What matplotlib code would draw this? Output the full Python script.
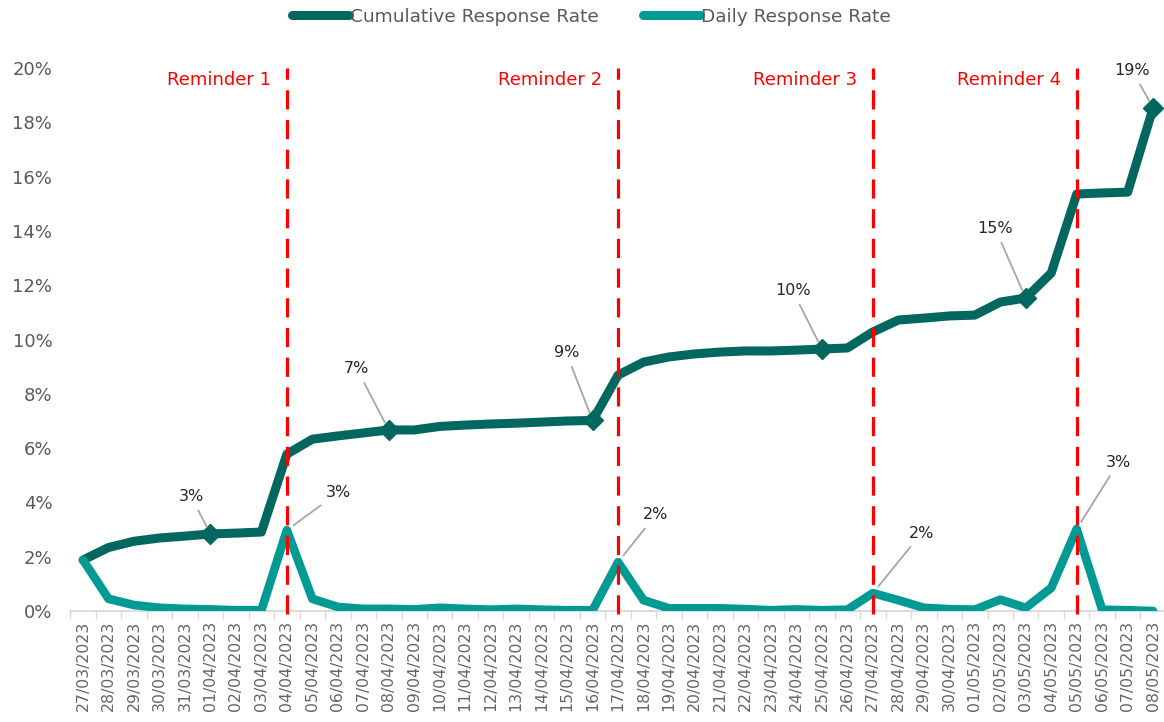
import matplotlib
matplotlib.use("Agg")
import matplotlib.pyplot as plt
import numpy as np

dates = ["27/03/2023", "28/03/2023", "29/03/2023", "30/03/2023", "31/03/2023",
         "01/04/2023", "02/04/2023", "03/04/2023", "04/04/2023", "05/04/2023",
         "06/04/2023", "07/04/2023", "08/04/2023", "09/04/2023", "10/04/2023",
         "11/04/2023", "12/04/2023", "13/04/2023", "14/04/2023", "15/04/2023",
         "16/04/2023", "17/04/2023", "18/04/2023", "19/04/2023", "20/04/2023",
         "21/04/2023", "22/04/2023", "23/04/2023", "24/04/2023", "25/04/2023",
         "26/04/2023", "27/04/2023", "28/04/2023", "29/04/2023", "30/04/2023",
         "01/05/2023", "02/05/2023", "03/05/2023", "04/05/2023", "05/05/2023",
         "06/05/2023", "07/05/2023", "08/05/2023"]

cumulative = [1.88, 2.34, 2.57, 2.69, 2.76, 2.84, 2.87, 2.91, 5.78, 6.33,
              6.45, 6.56, 6.67, 6.67, 6.80, 6.85, 6.89, 6.92, 6.96, 7.00,
              7.02, 8.69, 9.17, 9.36, 9.47, 9.54, 9.58, 9.58, 9.61, 9.65,
              9.69, 10.28, 10.72, 10.79, 10.87, 10.90, 11.38, 11.53, 12.45, 15.36,
              15.40, 15.43, 18.53]

daily = [1.88, 0.45, 0.22, 0.12, 0.08, 0.06, 0.03, 0.03, 2.98, 0.45,
         0.15, 0.08, 0.08, 0.06, 0.12, 0.08, 0.05, 0.08, 0.05, 0.03,
         0.03, 1.80, 0.40, 0.10, 0.10, 0.10, 0.07, 0.03, 0.06, 0.03,
         0.05, 0.66, 0.40, 0.12, 0.07, 0.05, 0.42, 0.12, 0.85, 3.02,
         0.05, 0.03, 0.00]

reminder_dates = ["04/04/2023", "17/04/2023", "27/04/2023", "05/05/2023"]
reminder_labels = ["Reminder 1", "Reminder 2", "Reminder 3", "Reminder 4"]

# cumulative markers with labels
cum_label_dates = ["01/04/2023", "08/04/2023", "16/04/2023", "25/04/2023", "03/05/2023", "08/05/2023"]
cum_label_texts = ["3%", "7%", "9%", "10%", "15%", "19%"]
daily_label_dates = ["04/04/2023", "17/04/2023", "27/04/2023", "05/05/2023"]
daily_label_texts = ["3%", "2%", "2%", "3%"]

C_CUM = "#02675F"
C_DAY = "#009A95"
GRAY_TXT = "#595959"

plt.rcParams['font.family'] = ['DejaVu Sans']

fig = plt.figure(figsize=(11.64, 7.22), dpi=100)
ax = fig.add_axes([0.0604, 0.1537, 0.9412, 0.752])

x = np.arange(len(dates))
cum = np.array(cumulative) / 100
day = np.array(daily) / 100

l1, = ax.plot(x, cum, color=C_CUM, lw=6.5, solid_joinstyle='round', solid_capstyle='round',
              label="Cumulative Response Rate", zorder=3)
l2, = ax.plot(x, day, color=C_DAY, lw=6.2, solid_joinstyle='round', solid_capstyle='round',
              label="Daily Response Rate", zorder=3)

mi = [dates.index(d) for d in cum_label_dates]
ax.plot(x[mi], cum[mi], linestyle='none', marker='D', ms=10.5, color=C_CUM, zorder=4)

# reminder lines
for d, lab in zip(reminder_dates, reminder_labels):
    i = dates.index(d)
    ax.axvline(i, ymin=-0.006, ymax=1.0, color='#FF0000', lw=2.3,
               linestyle=(0, (6.0, 3.3)), zorder=5, clip_on=False)
    ax.annotate(lab, xy=(i, 0.20), xycoords='data', xytext=(-11.5, -8.5),
                textcoords='offset points', ha='right', va='center',
                color='#FF0000', fontsize=13)

lead = dict(arrowstyle='-', color='#A6A6A6', lw=1.3, shrinkA=3, shrinkB=6)

cum_offsets = [(-14, 27), (-23, 44), (-19, 49), (-21, 42), (-22, 50), (-15, 27)]
for d, t, off in zip(cum_label_dates, cum_label_texts, cum_offsets):
    i = dates.index(d)
    ax.annotate(t, xy=(i, cum[i]), xytext=off, textcoords='offset points',
                ha='center', va='center', fontsize=11.5, color='#262626',
                arrowprops=lead, zorder=6)

day_offsets = [(37, 27), (27, 34), (35, 43), (30, 48)]
for d, t, off in zip(daily_label_dates, daily_label_texts, day_offsets):
    i = dates.index(d)
    ax.annotate(t, xy=(i, day[i]), xytext=off, textcoords='offset points',
                ha='center', va='center', fontsize=11.5, color='#262626',
                arrowprops=lead, zorder=6)

ax.set_xlim(-0.5, len(dates) - 0.5)
ax.set_ylim(0, 0.20)
ax.set_yticks(np.arange(0, 0.201, 0.02))
ax.set_yticklabels([f"{int(round(v*100))}%" for v in np.arange(0, 0.201, 0.02)])
ax.tick_params(axis='y', length=0, pad=13, labelsize=13, labelcolor=GRAY_TXT)

ax.set_xticks(x)
ax.set_xticklabels(dates, rotation=90)
ax.set_xticks(np.arange(-0.5, len(dates), 1.0), minor=True)
ax.tick_params(axis='x', which='major', length=0, pad=7, labelsize=11.3, labelcolor='#666666')
ax.tick_params(axis='x', which='minor', length=6, width=1, color='#D9D9D9')

for s in ['top', 'right', 'left']:
    ax.spines[s].set_visible(False)
ax.spines['bottom'].set_color('#D9D9D9')
ax.spines['bottom'].set_linewidth(1.3)

leg = fig.legend(handles=[l1, l2], loc='upper center', bbox_to_anchor=(0.508, 1.012), ncol=2,
                 frameon=False, fontsize=13.3, handlelength=3.1, handletextpad=0.05,
                 columnspacing=2.4)
for t in leg.get_texts():
    t.set_color(GRAY_TXT)
for h in leg.get_lines():
    h.set_linewidth(6.5)
    h.set_solid_capstyle('round')

fig.savefig("out.png", dpi=100)
